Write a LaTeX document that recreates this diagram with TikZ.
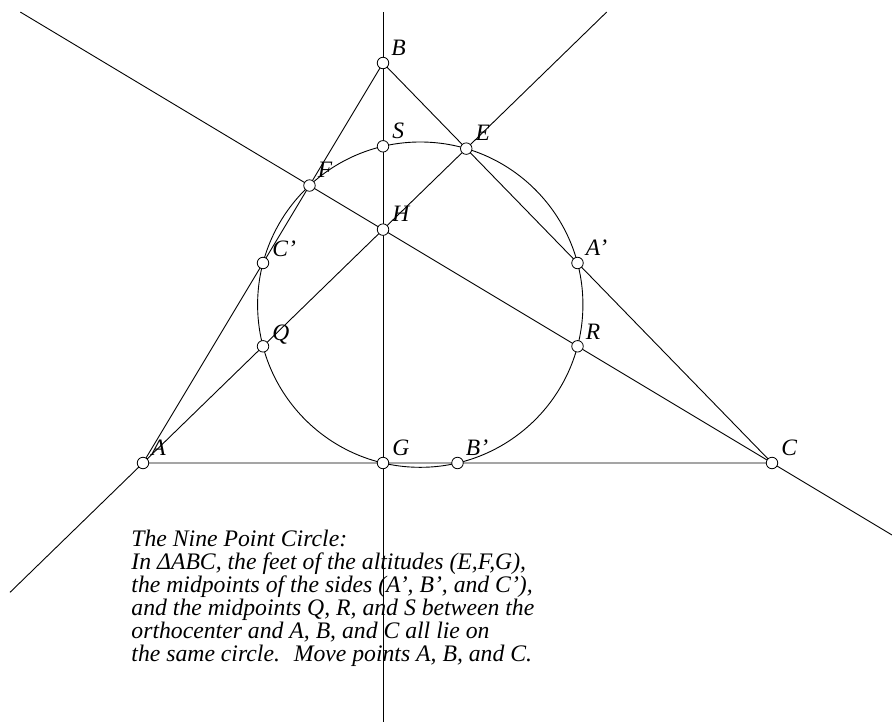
\documentclass[tikz,border=0pt]{standalone}
\usepackage{fontspec}
\setmainfont{Liberation Serif}
\usetikzlibrary{calc}
\begin{document}
\begin{tikzpicture}[x=1pt,y=-1pt,line width=0.9pt,
  pt/.style={circle,draw,fill=white,minimum size=11.5pt,inner sep=0pt,line width=0.8pt},
  lbl/.style={anchor=base west,inner sep=0pt,font=\fontsize{23.5}{23.5}\selectfont\itshape},
  txt/.style={anchor=base west,inner sep=0pt,font=\fontsize{23.7}{23.7}\selectfont\itshape}]
\useasboundingbox (0,0) rectangle (892,723);
\coordinate (A) at (143,463);
\coordinate (B) at (383,63);
\coordinate (C) at (772,463);
\coordinate (E) at ($(B)!(A)!(C)$);
\coordinate (F) at ($(A)!(C)!(B)$);
\coordinate (G) at ($(A)!(B)!(C)$);
\coordinate (H) at (intersection of A--E and B--G);
\coordinate (Ap) at ($(B)!0.5!(C)$);
\coordinate (Bp) at ($(A)!0.5!(C)$);
\coordinate (Cp) at ($(A)!0.5!(B)$);
\coordinate (Q) at ($(A)!0.5!(H)$);
\coordinate (R) at ($(C)!0.5!(H)$);
\coordinate (S) at ($(B)!0.5!(H)$);
\coordinate (N) at ($(Ap)!0.5!(Q)$);
\coordinate (a1) at ($(A)!-0.4114!(E)$);
\coordinate (a2) at ($(A)!1.4345!(E)$);
\coordinate (c1) at ($(C)!1.6252!(F)$);
\coordinate (c2) at ($(C)!-0.2595!(F)$);
\coordinate (b1) at (383,12);
\coordinate (b2) at (383,722);
\draw (a1) -- (a2);
\draw (c1) -- (c2);
\draw (b1) -- (b2);
\draw (A) -- (B) -- (C) -- cycle;
\draw let \p1=($(Ap)-(Q)$), \n1={veclen(\x1,\y1)/2} in (N) circle (\n1);
\foreach \p in {A,B,C,E,F,G,H,Ap,Bp,Cp,Q,R,S} \node[pt] (m\p) at (\p) {};
\node[lbl] (lA) at ($(A)+(8,-8)$) {A};
\node[lbl] (lB) at ($(B)+(8,-8)$) {B};
\node[lbl] (lC) at ($(C)+(9,-8)$) {C};
\node[lbl] (lE) at ($(E)+(9,-8)$) {E};
\node[lbl] (lF) at ($(F)+(8,-8)$) {F};
\node[lbl] (lG) at ($(G)+(9,-8)$) {G};
\node[lbl] (lH) at ($(H)+(9,-8)$) {H};
\node[lbl] (lS) at ($(S)+(9,-8)$) {S};
\node[lbl] (lAp) at ($(Ap)+(8,-8)$) {A’};
\node[lbl] (lBp) at ($(Bp)+(8,-8)$) {B’};
\node[lbl] (lCp) at ($(Cp)+(9,-7)$) {C’};
\node[lbl] (lQ) at ($(Q)+(9,-6)$) {Q};
\node[lbl] (lR) at ($(R)+(8,-7)$) {R};
\node[txt] (t1) at (131,546) {The Nine Point Circle:};
\node[txt] (t2) at (131,569.1) {In ΔABC, the feet of the altitudes (E,F,G),};
\node[txt] (t3) at (131,592.2) {the midpoints of the sides (A’, B’, and C’),};
\node[txt] (t4) at (131,615.3) {and the midpoints Q, R, and S between the};
\node[txt] (t5) at (131,638.4) {orthocenter and A, B, and C all lie on};
\node[txt] (t6) at (131,661.5) {the same circle.~ Move points A, B, and C.};
\end{tikzpicture}
\end{document}
